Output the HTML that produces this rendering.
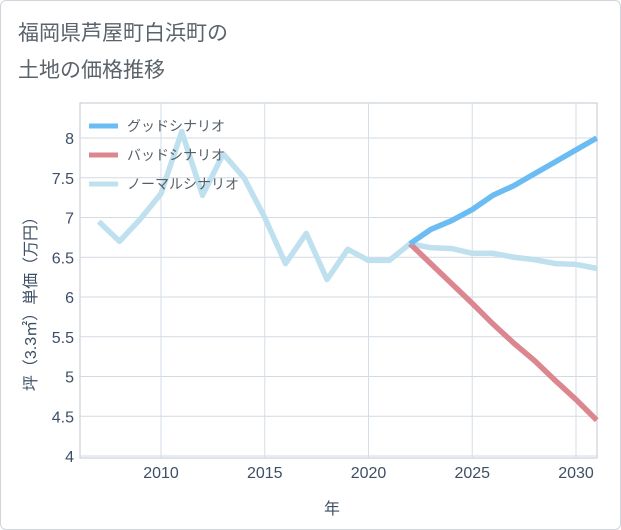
<!DOCTYPE html>
<html><head><meta charset="utf-8"><style>
body{margin:0;background:#fff;font-family:"Liberation Sans","Noto Sans CJK JP",sans-serif}
#wrap{position:relative;width:619px;height:528px;border:1px solid #d0d6dc;border-radius:6px;background:#fff}
</style></head><body>
<div id="wrap">
<svg id="c" width="621" height="530" style="position:absolute;left:-1px;top:-1px">
<text x="18" y="40" font-size="21" fill="#5a636b">福岡県芦屋町白浜町の</text>
<text x="18" y="77" font-size="21" fill="#5a636b">土地の価格推移</text>
<g id="grid"></g><g id="series"></g><g id="legend"></g>
<text x="332" y="514" font-size="16" fill="#3d4f66" text-anchor="middle">年</text>
<text transform="translate(36,300) rotate(-90)" font-size="16" fill="#3d4f66" text-anchor="middle">坪（3.3㎡）単価（万円）</text>
</svg></div>
<script>
const years=[2007,2008,2009,2010,2011,2012,2013,2014,2015,2016,2017,2018,2019,2020,2021,2022,2023,2024,2025,2026,2027,2028,2029,2030,2031];
const normal=[6.95,6.7,6.98,7.3,8.08,7.28,7.8,7.5,7.0,6.42,6.8,6.22,6.6,6.46,6.46,6.67,6.62,6.61,6.55,6.55,6.5,6.47,6.42,6.41,6.36];
const futureYears=[2022,2023,2024,2025,2026,2027,2028,2029,2030,2031];
const good=[6.67,6.85,6.96,7.1,7.28,7.4,7.55,7.7,7.85,8.0];
const bad=[6.67,6.42,6.17,5.92,5.66,5.42,5.2,4.95,4.71,4.45];
const yTicks=[4,4.5,5,5.5,6,6.5,7,7.5,8];
const xTicks=[2010,2015,2020,2025,2030];
const NS="http://www.w3.org/2000/svg";
const L=80,R=597,T=103,B=458;
const x=v=>161+(v-2010)*20.75;
const y=v=>456-(v-4)*79.5;
function mk(tag,attrs,parent){const e=document.createElementNS(NS,tag);for(const k in attrs)e.setAttribute(k,attrs[k]);parent.appendChild(e);return e;}
const g=document.getElementById('grid');
const frame=mk('rect',{x:L,y:T,width:R-L,height:B-T,fill:'none',stroke:'#c0c8d0'},g);


yTicks.forEach(t=>{
 const ln=mk('line',{x1:L,x2:R,y1:y(t),y2:y(t),stroke:'#d3dae2'},g);
 
 
 const tx=mk('text',{x:L-6,y:y(t)+6,'font-size':16,fill:'#3d4f66','text-anchor':'end'},g);
 tx.textContent=String(t);
 
 
});
xTicks.forEach(t=>{
 const ln=mk('line',{x1:x(t),x2:x(t),y1:T,y2:B,stroke:'#d3dee8'},g);
 
 
 const tx=mk('text',{x:x(t),y:478,'font-size':16,fill:'#3d4f66','text-anchor':'middle'},g);
 tx.textContent=String(t);
 
 
});
const s=document.getElementById('series');
function line(xs,vs,color,name){
 const p=mk('polyline',{points:xs.map((v,i)=>x(v)+','+y(vs[i])).join(' '),fill:'none',stroke:color,'stroke-width':5.5,'stroke-linejoin':'round'},s);
 
 
}
line(years,normal,'#bfe0ee','normal-scenario-line');
line(futureYears,bad,'#dc868f','bad-scenario-line');
line(futureYears,good,'#6bbcf2','good-scenario-line');
const lg=document.getElementById('legend');
[['グッドシナリオ','#6bbcf2'],['バッドシナリオ','#dc868f'],['ノーマルシナリオ','#bfe0ee']].forEach((e,i)=>{
 const ly=126+i*29;
 const ln=mk('line',{x1:89,x2:118,y1:ly,y2:ly,stroke:e[1],'stroke-width':5},lg);
 
 
 const tx=mk('text',{x:127,y:ly+5,'font-size':14,fill:'#555e66'},lg);
 tx.textContent=e[0];
 
 
});
</script>
</body></html>
